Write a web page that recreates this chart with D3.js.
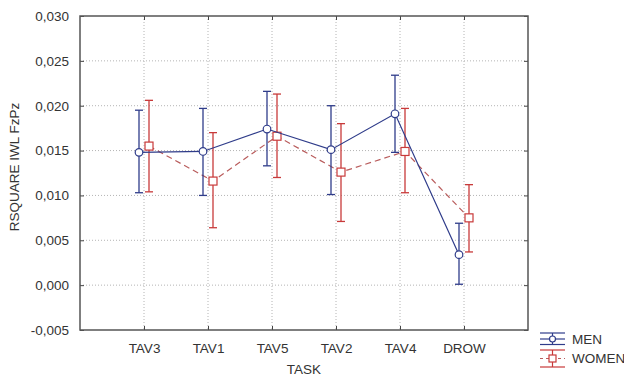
<!DOCTYPE html>
<html>
<head>
<meta charset="utf-8">
<script src="https://cdn.jsdelivr.net/npm/d3@7"></script>
<style>
  body { margin: 0; background: #fff; }
  text { font-family: "Liberation Sans", Arial, sans-serif; fill: #333; }
</style>
</head>
<body>
<div id="graph"></div>
<script>
// task categories and the two groups
var tasks = ["TAV3", "TAV1", "TAV5", "TAV2", "TAV4", "DROW"];
var menMean  = [0.0148, 0.0149, 0.0174, 0.0151, 0.0191, 0.0034];
var menLow   = [0.0103, 0.0100, 0.0133, 0.0101, 0.0148, 0.0001];
var menHigh  = [0.0195, 0.0197, 0.0216, 0.0200, 0.0234, 0.0069];
var womenMean = [0.0155, 0.0116, 0.0166, 0.0126, 0.0149, 0.0075];
var womenLow  = [0.0104, 0.0064, 0.0120, 0.0071, 0.0103, 0.0037];
var womenHigh = [0.0206, 0.0170, 0.0213, 0.0180, 0.0197, 0.0112];
var yTicks = [-0.005, 0, 0.005, 0.010, 0.015, 0.020, 0.025, 0.030];

(function() {
	var chart = {
		width: 624, height: 378,
		left: 80, right: 528, top: 16, bottom: 330,
		men: "#2f3c8a", women: "#c83a3a", womenLine: "#b95c5c"
	};

	var svg = d3.select("#graph").append("svg")
		.attr("width", chart.width)
		.attr("height", chart.height);

	var x = d3.scalePoint().domain(tasks).range([chart.left, chart.right]).padding(1);
	var y = d3.scaleLinear().domain([-0.005, 0.030]).range([chart.bottom, chart.top]);
	var fmt = d3.formatLocale({decimal: ",", thousands: ".", grouping: [3], currency: ["", ""], minus: "-"}).format(".3f");

	// grid lines
	svg.append("g").selectAll("line.hg").data(yTicks.slice(1, -1)).enter().append("line")
		.attr("x1", chart.left).attr("x2", chart.right)
		.attr("y1", function(d){ return y(d); }).attr("y2", function(d){ return y(d); })
		.attr("stroke", "#b4b4b4").attr("stroke-dasharray", "1,2");
	svg.append("g").selectAll("line.vg").data(tasks).enter().append("line")
		.attr("y1", chart.top).attr("y2", chart.bottom)
		.attr("x1", function(d){ return x(d); }).attr("x2", function(d){ return x(d); })
		.attr("stroke", "#b4b4b4").attr("stroke-dasharray", "1,2");

	// axes
	svg.append("g").attr("transform", "translate(" + chart.left + ",0)")
		.call(d3.axisLeft(y).tickValues(yTicks).tickFormat(fmt).tickSizeInner(-4).tickSizeOuter(0).tickPadding(11));
	svg.append("g").attr("transform", "translate(0," + chart.bottom + ")")
		.call(d3.axisBottom(x).tickSizeInner(-4).tickSizeOuter(0).tickPadding(13));
	svg.append("g").attr("transform", "translate(" + chart.right + ",0)")
		.call(d3.axisRight(y).tickValues(yTicks).tickFormat("").tickSizeInner(-4).tickSizeOuter(0));
	svg.append("g").attr("transform", "translate(0," + chart.top + ")")
		.call(d3.axisTop(x).tickFormat("").tickSizeInner(-4).tickSizeOuter(0));
	svg.selectAll(".domain").remove();
	svg.selectAll(".tick line").attr("stroke", "#444");
	svg.selectAll(".tick text").style("font-size", "13.5px").attr("fill", "#333")
		.style("font-family", "'Liberation Sans', Arial, sans-serif");

	svg.append("rect")
		.attr("x", chart.left).attr("y", chart.top)
		.attr("width", chart.right - chart.left).attr("height", chart.bottom - chart.top)
		.attr("fill", "none").attr("stroke", "#555").attr("stroke-width", 1.5);

	// axis titles
	svg.append("text").attr("x", 304).attr("y", 374).attr("text-anchor", "middle")
		.style("font-size", "13.5px").text("TASK");
	svg.append("text").attr("transform", "translate(19,167) rotate(-90)").attr("text-anchor", "middle")
		.style("font-size", "13.5px").text("RSQUARE IWL FzPz");

	// one series: line, error bars, markers
	var drawSeries = function(mean, low, high, dx, color, lineColor, dashed, shape) {
		var pts = tasks.map(function(t, i){ return {t: t, m: mean[i], lo: low[i], hi: high[i]}; });
		var g = svg.append("g");
		g.append("path").datum(pts)
			.attr("fill", "none").attr("stroke", lineColor).attr("stroke-width", 1.2)
			.attr("stroke-dasharray", dashed ? "6,4" : null)
			.attr("d", d3.line().x(function(d){ return x(d.t) + dx; }).y(function(d){ return y(d.m); }));
		var bars = g.selectAll("g.err").data(pts).enter().append("g")
			.attr("stroke", color).attr("stroke-width", 1.3);
		bars.append("line")
			.attr("x1", function(d){ return x(d.t) + dx; }).attr("x2", function(d){ return x(d.t) + dx; })
			.attr("y1", function(d){ return y(d.lo); }).attr("y2", function(d){ return y(d.hi); });
		bars.append("line")
			.attr("x1", function(d){ return x(d.t) + dx - 4; }).attr("x2", function(d){ return x(d.t) + dx + 4; })
			.attr("y1", function(d){ return y(d.hi); }).attr("y2", function(d){ return y(d.hi); });
		bars.append("line")
			.attr("x1", function(d){ return x(d.t) + dx - 4; }).attr("x2", function(d){ return x(d.t) + dx + 4; })
			.attr("y1", function(d){ return y(d.lo); }).attr("y2", function(d){ return y(d.lo); });
		if (shape === "circle") {
			g.selectAll("circle").data(pts).enter().append("circle")
				.attr("cx", function(d){ return x(d.t) + dx; }).attr("cy", function(d){ return y(d.m); })
				.attr("r", 3.8).attr("fill", "#fff").attr("stroke", color).attr("stroke-width", 1.2);
		} else {
			g.selectAll("rect").data(pts).enter().append("rect")
				.attr("x", function(d){ return x(d.t) + dx - 4; }).attr("y", function(d){ return y(d.m) - 4; })
				.attr("width", 8).attr("height", 8)
				.attr("fill", "#fff").attr("stroke", color).attr("stroke-width", 1.2);
		}
	};

	drawSeries(womenMean, womenLow, womenHigh, 5, chart.women, chart.womenLine, true, "square");
	drawSeries(menMean, menLow, menHigh, -5, chart.men, chart.men, false, "circle");

	// legend
	var lg = svg.append("g").attr("transform", "translate(540,0)");
	lg.append("g").attr("stroke", chart.men).attr("stroke-width", 1.2).call(function(s){
		s.append("line").attr("x1", 0).attr("x2", 25).attr("y1", 333).attr("y2", 333);
		s.append("line").attr("x1", 0).attr("x2", 25).attr("y1", 339).attr("y2", 339);
		s.append("line").attr("x1", 0).attr("x2", 25).attr("y1", 344.5).attr("y2", 344.5);
		s.append("line").attr("x1", 12.5).attr("x2", 12.5).attr("y1", 333).attr("y2", 344.5);
		s.append("circle").attr("cx", 12.5).attr("cy", 339).attr("r", 3).attr("fill", "#fff");
	});
	lg.append("g").attr("stroke", chart.women).attr("stroke-width", 1.2).call(function(s){
		s.append("line").attr("x1", 0).attr("x2", 25).attr("y1", 350).attr("y2", 350);
		s.append("line").attr("x1", 0).attr("x2", 25).attr("y1", 358.5).attr("y2", 358.5)
			.attr("stroke-dasharray", "3,3").attr("stroke", chart.womenLine);
		s.append("line").attr("x1", 0).attr("x2", 25).attr("y1", 367).attr("y2", 367);
		s.append("line").attr("x1", 12.5).attr("x2", 12.5).attr("y1", 350).attr("y2", 367);
		s.append("rect").attr("x", 9).attr("y", 355).attr("width", 7).attr("height", 7).attr("fill", "#fff");
	});
	lg.append("text").attr("x", 32).attr("y", 343.5).style("font-size", "13.5px").text("MEN");
	lg.append("text").attr("x", 32).attr("y", 363).style("font-size", "13.5px").text("WOMEN");
})();
</script>
</body>
</html>
